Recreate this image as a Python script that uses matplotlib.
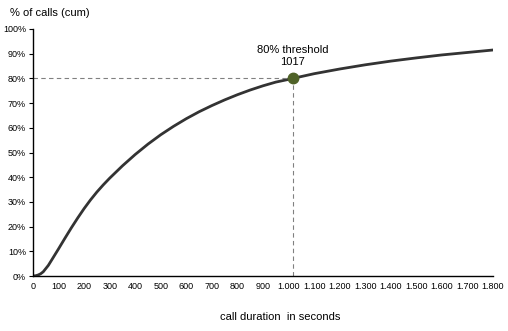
import matplotlib
matplotlib.use("Agg")
import matplotlib.pyplot as plt
from matplotlib.ticker import FuncFormatter

plt.rcParams['font.family'] = ['Liberation Sans', 'DejaVu Sans']

duration = [0, 10, 20, 30, 40, 50, 60, 75, 100, 125, 150, 175, 200, 225, 250, 275, 300, 350, 400, 450,
            500, 550, 600, 650, 700, 750, 800, 850, 900, 950, 1000, 1017,
            1100, 1200, 1300, 1400, 1500, 1600, 1700, 1800]
cum_pct = [0, 0.1, 0.4, 0.9, 1.7, 3.0, 4.3, 6.8, 11.0, 15.3, 19.5, 23.5, 27.3, 30.8, 34.0, 36.9, 39.6,
           44.6, 49.2, 53.4, 57.2, 60.6, 63.7, 66.5, 69.0, 71.3, 73.4, 75.3, 77.0, 78.5, 79.6, 80.0,
           81.9, 83.8, 85.5, 87.0, 88.3, 89.5, 90.5, 91.5]
threshold_x = 1017
threshold_y = 80
x_ticks = list(range(0, 1801, 100))
y_ticks = list(range(0, 101, 10))

fig = plt.figure(figsize=(5.08, 3.31), dpi=100)
ax = fig.add_axes([33/508, 55/331, 460/508, 247/331])

ax.plot(duration, cum_pct, color='#333333', lw=2, solid_capstyle='round', solid_joinstyle='round')
ax.plot([0, threshold_x], [threshold_y, threshold_y], ls=(0, (4, 3)), color='#808080', lw=0.8)
ax.plot([threshold_x, threshold_x], [0, threshold_y], ls=(0, (4, 3)), color='#808080', lw=0.8)
ax.plot([threshold_x], [threshold_y], 'o', ms=7.5, color='#4f6228', zorder=5)
ax.text(threshold_x, threshold_y + 4.8, f"80% threshold\n{threshold_x}", ha='center', va='bottom',
        fontsize=8, linespacing=1.15)

ax.set_xlim(0, 1800)
ax.set_ylim(0, 100)
ax.set_xticks(x_ticks)
ax.set_yticks(y_ticks)
ax.xaxis.set_major_formatter(FuncFormatter(lambda v, p: f"{int(v):,}".replace(",", ".")))
ax.yaxis.set_major_formatter(FuncFormatter(lambda v, p: f"{int(v)}%"))
ax.tick_params(axis='x', length=0, labelsize=6.5, pad=4)
ax.tick_params(axis='y', length=3, labelsize=6.5, pad=2, direction='out')
for s in ['top', 'right']:
    ax.spines[s].set_visible(False)
for s in ['left', 'bottom']:
    ax.spines[s].set_color('black')
    ax.spines[s].set_linewidth(1)

fig.text(280/508, 1 - 317/331, "call duration  in seconds", ha='center', va='center', fontsize=8)
fig.text(10/508, 1 - 13/331, "% of calls (cum)", ha='left', va='center', fontsize=8)

fig.savefig("out.png", dpi=100)
